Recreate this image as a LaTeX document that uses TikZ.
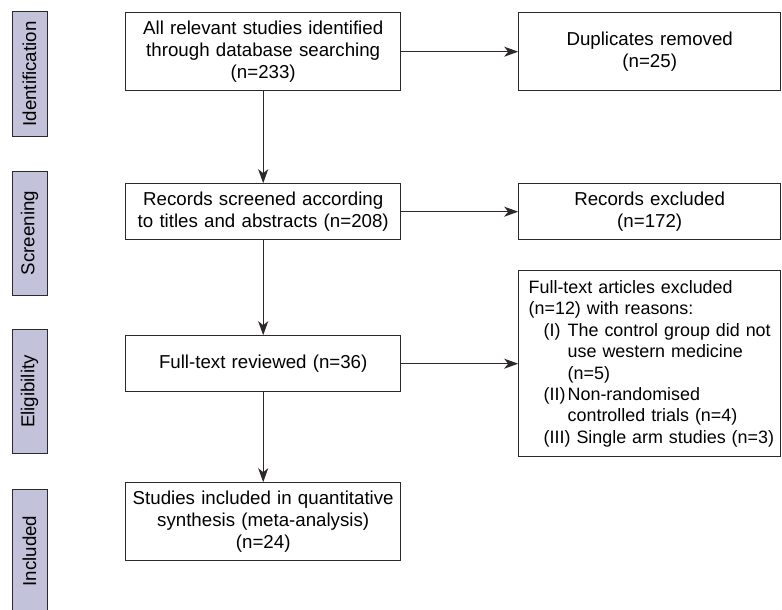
\documentclass[tikz,border=0pt]{standalone}
\usepackage{fontspec}
\setmainfont{Liberation Sans}
\usepackage{tikz}
\usetikzlibrary{arrows.meta}

\definecolor{framegray}{RGB}{45,41,42}
\definecolor{stagefill}{RGB}{194,194,218}
\newcommand{\flowfont}{\fontsize{18.7}{21.6}\selectfont}
\newcommand{\reasonfont}{\fontsize{17.9}{21.4}\selectfont}

\begin{document}
\begin{tikzpicture}[x=1pt,y=1pt,
		block_center/.style ={rectangle, draw=framegray, line width=1pt, anchor=center,
			text width=263pt, inner xsep=6pt, align=center, font=\flowfont},
		block_right/.style ={rectangle, draw=framegray, line width=1pt, anchor=center,
			text width=250pt, inner xsep=6pt, align=center, font=\flowfont},
		block_reason/.style ={block_right, text width=246pt, inner xsep=8pt, align=left, font=\reasonfont},
		stage_label/.style ={rectangle, draw=framegray, fill=stagefill, line width=1pt,
			rotate=90, minimum width=124pt, minimum height=35pt, inner sep=0pt, font=\flowfont},
		line/.style ={draw=framegray, line width=1pt, -{Stealth[length=14pt,width=10pt,inset=4pt]}}]
	\useasboundingbox (0,0) rectangle (782,-610);

	% stage labels on the left
	\node [stage_label] (identification) at (29.5,-74) {Identification};
	\node [stage_label] (screening) at (29.5,-233) {Screening};
	\node [stage_label] (eligibility) at (29.5,-391.5) {Eligibility};
	\node [stage_label] (included) at (29.5,-551) {Included};

	% outlining the flowchart with a matrix
	\matrix (flow) [column sep=117pt, row sep=0pt, inner sep=0pt, anchor=north west] at (125,-12) {
		% identification - row 1
		\node [block_center, minimum height=78pt] (ident) {All relevant studies identified\\through database searching\\(n=233)};
		& \node [block_right, minimum height=78pt] (dupl) {Duplicates removed\\(n=25)}; \\[92pt]
		% screening - row 2
		\node [block_center, minimum height=56pt] (screen) {Records screened according\\to titles and abstracts (n=208)};
		& \node [block_right, minimum height=56pt] (recex) {Records excluded\\(n=172)}; \\[30pt]
		% eligibility - row 3
		\node [block_center, minimum height=56pt] (fulltext) {Full-text reviewed (n=36)};
		& \node [block_reason, minimum height=186pt] (reasons) {\hspace*{2pt}Full-text articles excluded\\
			\hspace*{2pt}(n=12) with reasons:\\
			\mbox{\hspace*{17pt}\makebox[24pt][l]{(I)}The control group did not}\\
			\hspace*{41pt}use western medicine\\
			\hspace*{41pt}(n=5)\\
			\hspace*{17pt}\makebox[24pt][l]{(II)}Non-randomised\\
			\hspace*{41pt}controlled trials (n=4)\\
			\mbox{\hspace*{17pt}(III) Single arm studies (n=3)}}; \\[25pt]
		% included - row 4
		\node [block_center, minimum height=78pt] (incl) {Studies included in quantitative\\synthesis (meta-analysis)\\(n=24)}; \\
	};% end matrix

	% connecting nodes with paths
	\begin{scope}[every path/.style=line]
		\path (ident) -- (dupl);
		\path (ident) -- (screen);
		\path (screen) -- (recex);
		\path (screen) -- (fulltext);
		\path (fulltext) -- (fulltext -| reasons.west);
		\path (fulltext) -- (incl);
	\end{scope}
\end{tikzpicture}
\end{document}
